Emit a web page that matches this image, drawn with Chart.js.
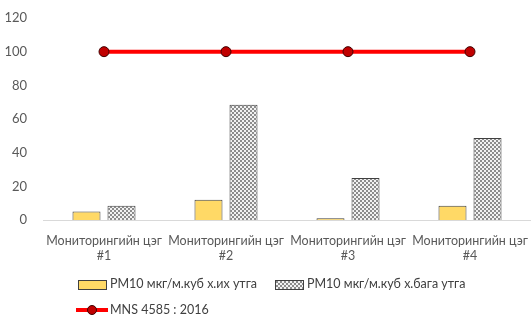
<!DOCTYPE html>
<html>
<head>
<meta charset="utf-8">
<script src="https://cdn.jsdelivr.net/npm/chart.js@4"></script>
<style>
  html, body { margin: 0; padding: 0; background: #fff; }
  #wrap { position: relative; width: 531px; height: 316px; }
  #legend { position: absolute; left: 0; top: 0; font-family: "Lato", sans-serif; font-size: 12.5px; color: #404040; }
  .item { position: absolute; white-space: nowrap; line-height: 16px; }
  .box { position: absolute; top: 4px; width: 27px; height: 8px; border: 1px solid #404040; }
  .ln { position: absolute; top: 6px; width: 32px; height: 4px; background: #ff0000; }
  .dot { position: absolute; top: 3px; left: 11px; width: 8px; height: 8px; border-radius: 50%; background: #c00000; border: 1px solid #400000; }
</style>
</head>
<body>
<div id="wrap">
  <canvas id="chart" width="531" height="316"></canvas>
  <div id="legend"></div>
</div>
<script>
(function () {
  'use strict';

  const categories = [
    ['Мониторингийн цэг', '#1'],
    ['Мониторингийн цэг', '#2'],
    ['Мониторингийн цэг', '#3'],
    ['Мониторингийн цэг', '#4']
  ];
  const maxValues = [5, 12, 1, 8.5];
  const minValues = [8.5, 68.5, 25, 48.7];
  const standardValues = [100, 100, 100, 100];
  const yTicks = [0, 20, 40, 60, 80, 100, 120];

  const seriesNames = ['PM10 мкг/м.куб  х.их утга', 'PM10 мкг/м.куб  х.бага утга', 'MNS 4585 : 2016'];

  // checker pattern for the second bar series
  const pc = document.createElement('canvas');
  pc.width = 4; pc.height = 4;
  const pctx = pc.getContext('2d');
  pctx.fillStyle = '#f2f2f2';
  pctx.fillRect(0, 0, 4, 4);
  pctx.fillStyle = '#8c8c8c';
  pctx.fillRect(0, 0, 2, 2);
  pctx.fillRect(2, 2, 2, 2);
  const ctx = document.getElementById('chart');
  const pattern = ctx.getContext('2d').createPattern(pc, 'repeat');

  new Chart(ctx, {
    type: 'bar',
    data: {
      labels: categories,
      datasets: [
        {
          type: 'line',
          label: seriesNames[2],
          data: standardValues,
          borderColor: '#ff0000',
          borderWidth: 4,
          pointRadius: 5,
          pointBackgroundColor: '#c00000',
          pointBorderColor: '#400000',
          pointBorderWidth: 1,
          order: 0
        },
        {
          label: seriesNames[0],
          data: maxValues,
          backgroundColor: '#ffd966',
          borderColor: '#404040',
          borderWidth: 1,
          borderSkipped: 'bottom',
          barPercentage: 0.8,
          categoryPercentage: 0.574,
          order: 1
        },
        {
          label: seriesNames[1],
          data: minValues,
          backgroundColor: pattern,
          borderColor: '#404040',
          borderWidth: 1,
          borderSkipped: 'bottom',
          barPercentage: 0.8,
          categoryPercentage: 0.574,
          order: 1
        }
      ]
    },
    options: {
      responsive: false,
      animation: false,
      layout: { autoPadding: false, padding: { top: 18, right: 0, left: 0, bottom: 0 } },
      scales: {
        y: {
          min: 0,
          max: 120,
          afterBuildTicks: function (axis) {
            axis.ticks = yTicks.map(v => ({ value: v }));
          },
          afterFit: function (axis) {
            axis.width = 43;
            axis.paddingTop = 0;
            axis.paddingBottom = 0;
          },
          grid: { display: false },
          border: { display: false },
          ticks: {
            color: '#595959',
            padding: 8,
            font: { family: 'Lato', size: 13 }
          }
        },
        x: {
          afterFit: function (axis) {
            axis.height = 96;
            axis.paddingLeft = 0;
            axis.paddingRight = 0;
          },
          grid: { display: false },
          border: { display: true, color: '#d9d9d9', width: 1 },
          ticks: {
            color: '#595959',
            padding: 5,
            maxRotation: 0,
            autoSkip: false,
            font: { family: 'Lato', size: 12.5 }
          }
        }
      },
      plugins: {
        legend: { display: false },
        tooltip: { enabled: false }
      }
    }
  });

  // legend laid out in two rows like the original
  const legend = document.getElementById('legend');
  legend.innerHTML = `
    <div class="item" style="left:78px; top:276px;">
      <span class="box" style="left:0; background:#ffd966;"></span>
      <span style="margin-left:32px;">${seriesNames[0]}</span>
    </div>
    <div class="item" style="left:275px; top:276px;">
      <span class="box" style="left:0; background-image:url(${pc.toDataURL()});"></span>
      <span style="margin-left:32px;">${seriesNames[1]}</span>
    </div>
    <div class="item" style="left:76px; top:302px;">
      <span class="ln" style="left:0;"></span>
      <span class="dot"></span>
      <span style="margin-left:34px;">${seriesNames[2]}</span>
    </div>
  `;
})();
</script>
</body>
</html>
